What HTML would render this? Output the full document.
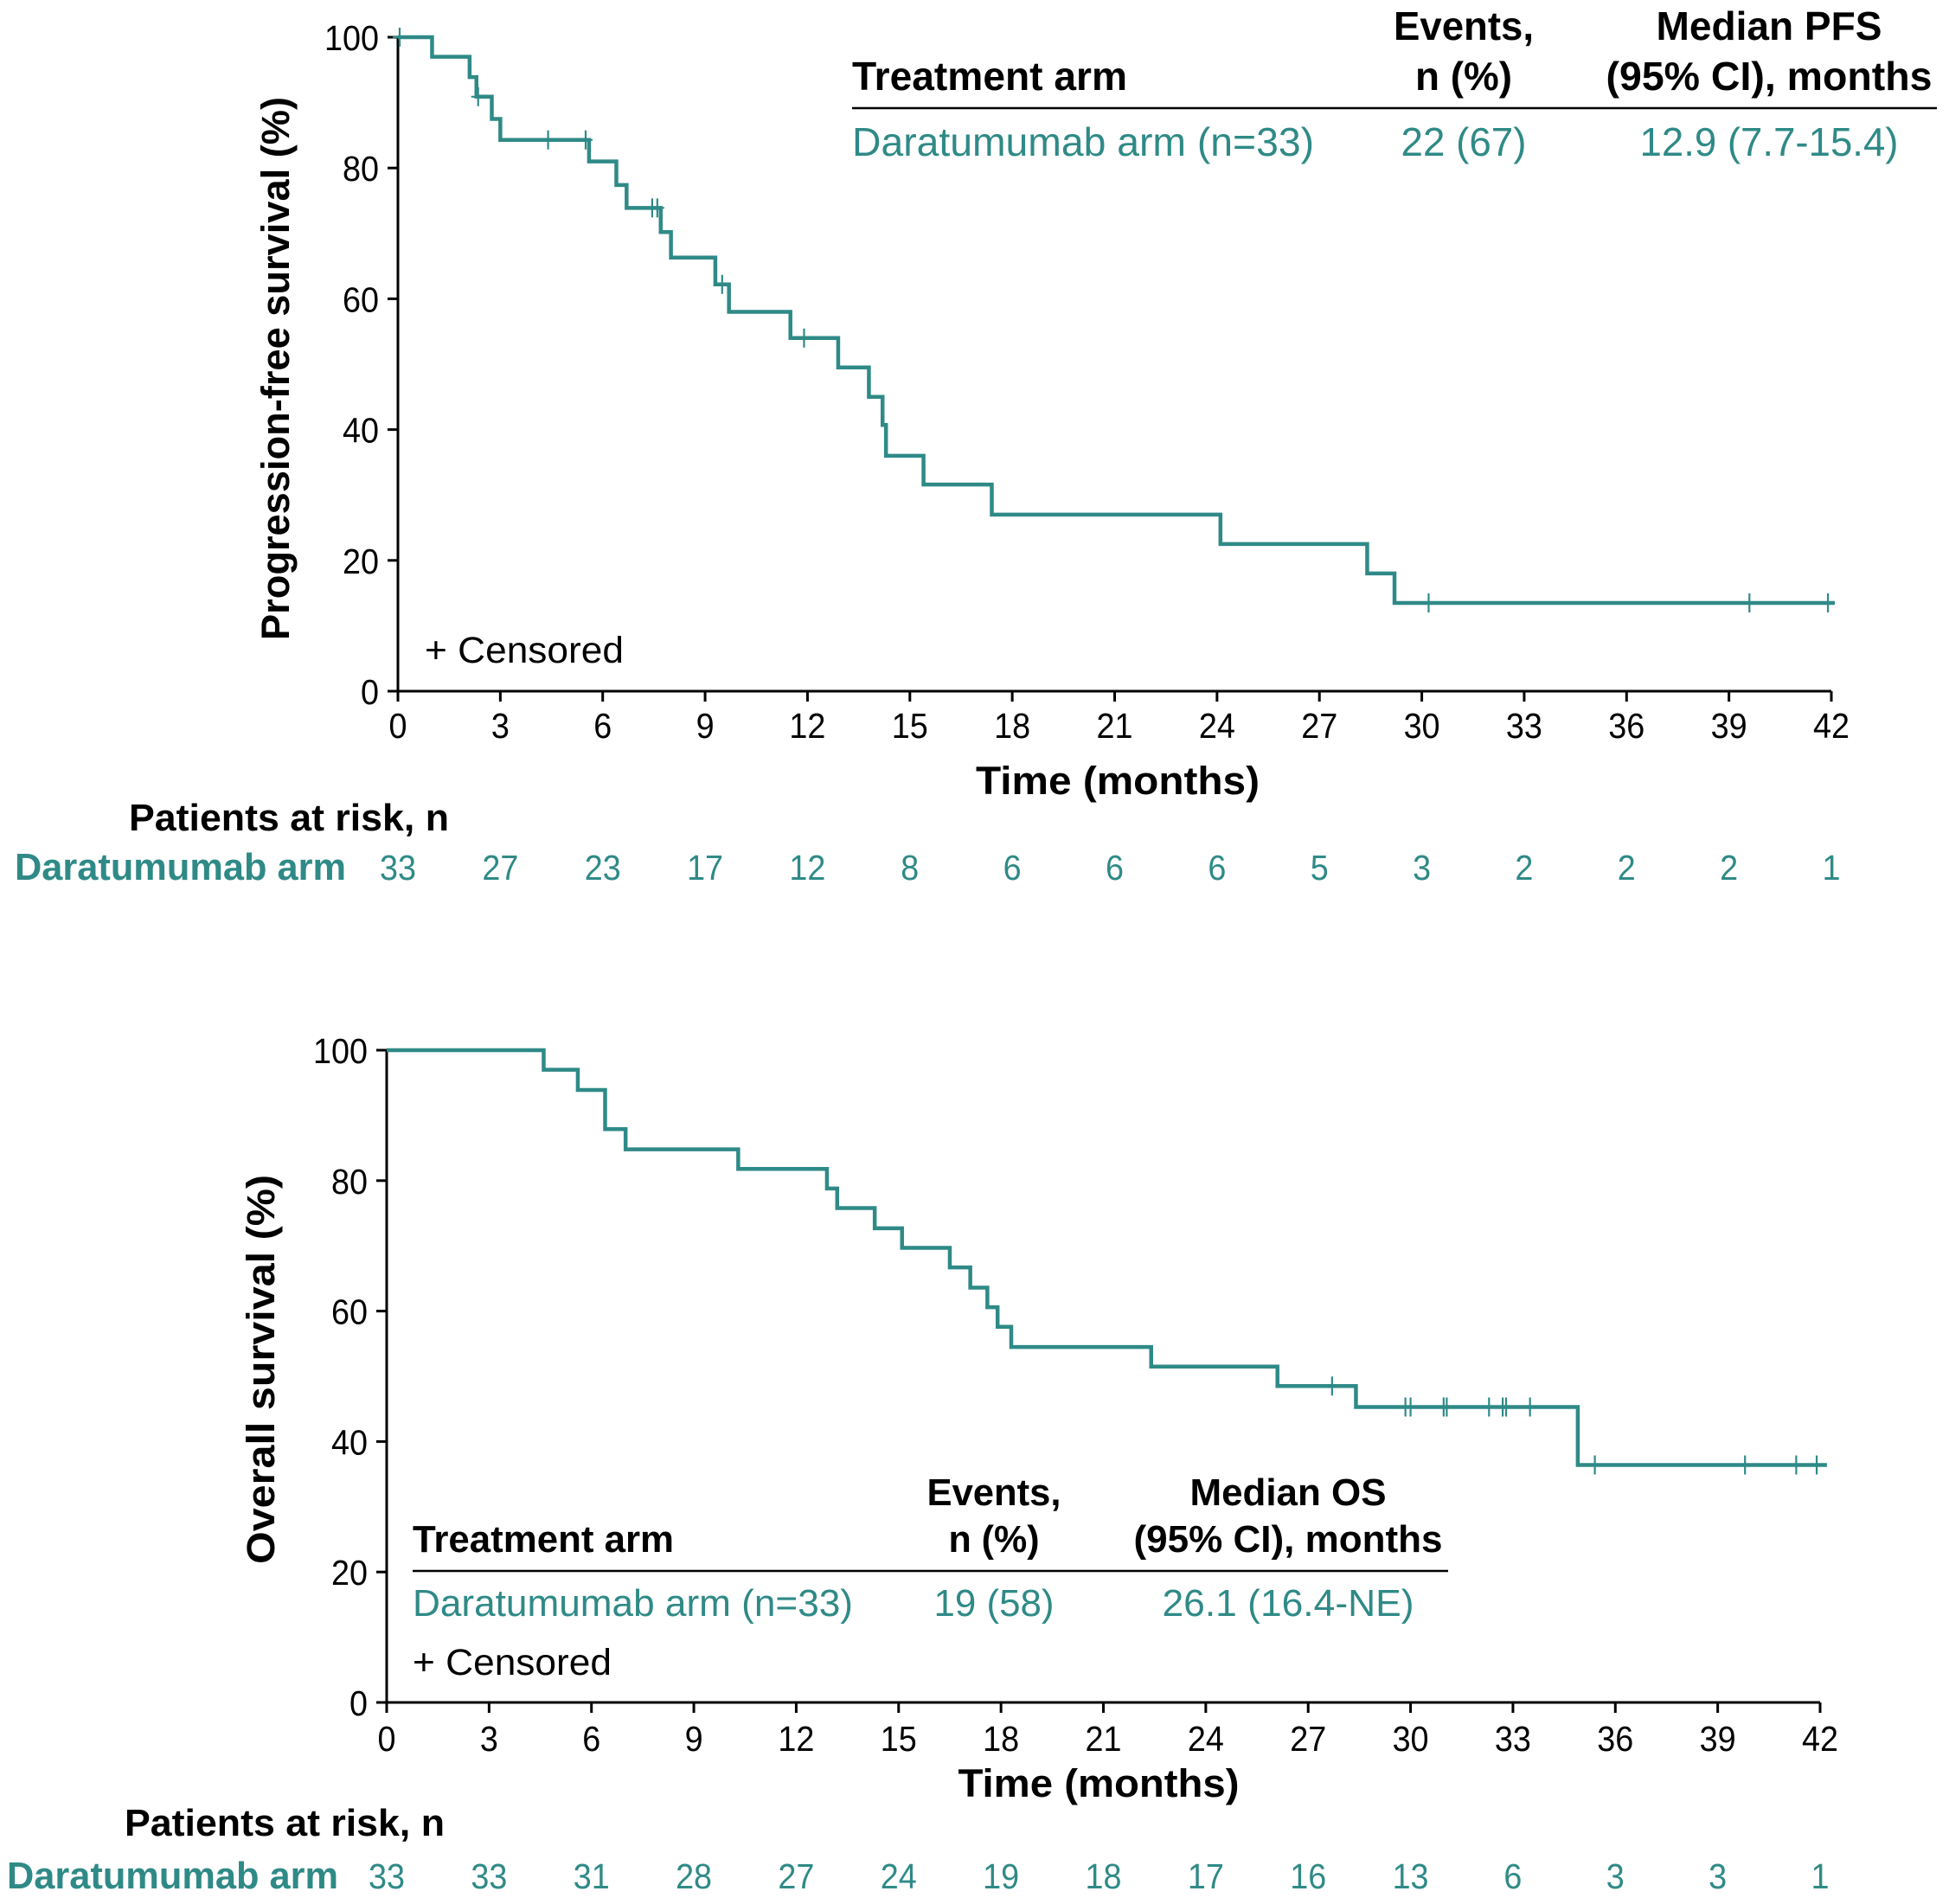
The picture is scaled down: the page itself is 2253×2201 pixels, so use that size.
<!DOCTYPE html>
<html><head><meta charset="utf-8"><style>
html,body{margin:0;padding:0;background:#fff}
svg{display:block}
text{font-family:"Liberation Sans",Arial,sans-serif}
</style></head><body>
<svg id="fig" xmlns="http://www.w3.org/2000/svg" width="2253" height="2201" viewBox="0 0 2253 2201">
<g id="top"></g>
<g id="bot"></g>
</svg>
<script>
const TEAL = "#2f8a87";
const xTicks = [0,3,6,9,12,15,18,21,24,27,30,33,36,39,42];
const yTicks = [0,20,40,60,80,100];
const pfsEventT = [1.0,2.1,2.3,2.75,3.0,5.6,6.4,6.7,7.7,8.0,9.3,9.7,11.5,12.9,13.8,14.2,14.3,15.4,17.4,24.1,28.4,29.2];
const pfsEventS = [97.0,93.9,90.9,87.5,84.3,81.0,77.4,73.9,70.2,66.3,62.2,58.0,54.0,49.5,45.0,40.7,36.0,31.6,27.0,22.5,18.0,13.5];
const pfsCensorT = [0.05,2.35,4.4,5.5,7.45,7.6,9.5,11.9,30.2,39.6,41.9];
const pfsEnd = 42.1;
const pfsRisk = [33,27,23,17,12,8,6,6,6,5,3,2,2,2,1];
const osEventT = [4.6,5.6,6.4,7.0,10.3,12.9,13.2,14.3,15.1,16.5,17.1,17.6,17.9,18.3,22.4,26.1,28.4,34.9];
const osEventS = [97.0,93.9,87.9,84.8,81.8,78.8,75.8,72.7,69.7,66.7,63.6,60.6,57.6,54.5,51.5,48.5,45.3,36.4];
const osCensorT = [27.7,29.85,30.0,30.97,31.06,32.3,32.7,32.8,33.5,35.4,39.8,41.3,41.9];
const osEnd = 42.2;
const osRisk = [33,33,31,28,27,24,19,18,17,16,13,6,3,3,1];

const NS = "http://www.w3.org/2000/svg";
function mk(parent, tag, attrs, txt){
  const e = document.createElementNS(NS, tag);
  for (const k in attrs) e.setAttribute(k, attrs[k]);
  if (txt !== undefined) e.textContent = txt;
  parent.appendChild(e);
  return e;
}
function survAt(T,S,t){ let s=100; for(let i=0;i<T.length;i++){ if(T[i]<=t) s=S[i]; } return s; }
const NUMFS = 41, NUMW = 21;

function draw(g, c){
  const xs = t => c.x0 + (c.x42 - c.x0) * t / 42;
  const ys = v => c.y0 - (c.y0 - c.y100) * v / 100;
  const ax = mk(g,'path',{d:`M${c.x0},${c.y100} V${c.y0} H${c.x42}`,fill:'none',stroke:'#000','stroke-width':3});
  
  
  yTicks.forEach(v=>{
    const y = ys(v);
    const tk = mk(g,'line',{x1:c.x0-12,x2:c.x0,y1:y,y2:y,stroke:'#000','stroke-width':3});
    
    
    const s = String(v);
    const tl = mk(g,'text',{x:c.ytx,y:y+15,'text-anchor':'end','font-size':NUMFS,fill:'#000',textLength:s.length*NUMW,lengthAdjust:'spacingAndGlyphs'},s);
    
    
  });
  xTicks.forEach((v,i)=>{
    const x = xs(v);
    const tk = mk(g,'line',{x1:x,x2:x,y1:c.y0,y2:c.y0+12,stroke:'#000','stroke-width':3});
    
    
    const s = String(v);
    const tl = mk(g,'text',{x:x,y:c.xtBase,'text-anchor':'middle','font-size':NUMFS,fill:'#000',textLength:s.length*NUMW,lengthAdjust:'spacingAndGlyphs'},s);
    
    
    const r = String(c.risk[i]);
    const rn = mk(g,'text',{x:x,y:c.riskBase,'text-anchor':'middle','font-size':NUMFS,fill:TEAL,textLength:r.length*NUMW,lengthAdjust:'spacingAndGlyphs'},r);
    
    
  });
  let d = `M${xs(0)},${ys(100)}`;
  c.T.forEach((t,i)=>{ d += ` H${xs(t)} V${ys(c.S[i])}`; });
  d += ` H${xs(c.end)}`;
  const cv = mk(g,'path',{d:d,fill:'none',stroke:TEAL,'stroke-width':4.5});
  
  
  c.C.forEach(t=>{
    const x = xs(t), y = ys(survAt(c.T,c.S,t));
    const cm = mk(g,'path',{d:`M${x},${y-11} V${y+11} M${x-8},${y} H${x+8}`,stroke:TEAL,'stroke-width':2.2,fill:'none'});
    
    
  });
  const xt = mk(g,'text',{x:c.xTitleX,y:c.xTitleY,'text-anchor':'middle','font-size':45,'font-weight':'bold',textLength:c.xTitleW,lengthAdjust:'spacingAndGlyphs'},'Time (months)');
  
  
  const yt = mk(g,'text',{x:0,y:0,'text-anchor':'middle','font-size':45,'font-weight':'bold',transform:`translate(${c.yTitleX},${c.yTitleY}) rotate(-90)`,textLength:c.yTitleW,lengthAdjust:'spacingAndGlyphs'},c.yTitle);
  
  
  const cs = mk(g,'text',{x:c.censX,y:c.censY,'font-size':43,textLength:230,lengthAdjust:'spacingAndGlyphs'},'+ Censored');
  
  
  const rh = mk(g,'text',{x:c.riskHX,y:c.riskHY,'font-size':44,'font-weight':'bold',textLength:370,lengthAdjust:'spacingAndGlyphs'},'Patients at risk, n');
  
  
  const ra = mk(g,'text',{x:c.riskAX,y:c.riskBase,'font-size':44,'font-weight':'bold',fill:TEAL,textLength:383,lengthAdjust:'spacingAndGlyphs'},'Daratumumab arm');
  
  
  const tb = c.tbl;
  const parts = [
    ['Events,', tb.evX, tb.h1, tb.evW1, true, '#000', 'events-header'],
    ['n (%)', tb.evX, tb.h2, tb.evW2, true, '#000', 'events-header-2'],
    [tb.medT1, tb.mdX, tb.h1, tb.mdW1, true, '#000', 'median-header'],
    ['(95% CI), months', tb.mdX, tb.h2, tb.mdW2, true, '#000', 'median-header-2'],
    [tb.ev, tb.evX, tb.r, tb.evVW, false, TEAL, 'events-value'],
    [tb.md, tb.mdX, tb.r, tb.mdVW, false, TEAL, 'median-value']
  ];
  parts.forEach(p=>{
    const t = mk(g,'text',{x:p[1],y:p[2],'text-anchor':'middle','font-size':tb.fs,'font-weight':p[4]?'bold':'normal',fill:p[5],textLength:p[3],lengthAdjust:'spacingAndGlyphs'},p[0]);
    
    
  });
  const th = mk(g,'text',{x:tb.l,y:tb.h2,'font-size':tb.fs,'font-weight':'bold',textLength:tb.taW,lengthAdjust:'spacingAndGlyphs'},'Treatment arm');
  
  
  const tr = mk(g,'text',{x:tb.l,y:tb.r,'font-size':tb.fs,fill:TEAL,textLength:tb.armW,lengthAdjust:'spacingAndGlyphs'},'Daratumumab arm (n=33)');
  
  
  const rl = mk(g,'line',{x1:tb.l,x2:tb.rt,y1:tb.rule,y2:tb.rule,stroke:'#000','stroke-width':2.5});
  
  
}

draw(document.getElementById('top'),{
  x0:460,x42:2117,y0:799,y100:43,ytx:438,xtBase:853,riskBase:1017,
  T:pfsEventT,S:pfsEventS,C:pfsCensorT,end:pfsEnd,risk:pfsRisk,
  xTitleX:1292,xTitleY:918,xTitleW:328,yTitle:'Progression-free survival (%)',yTitleX:334,yTitleY:426,yTitleW:628,
  censX:491,censY:766,riskHX:149,riskHY:960,riskAX:17,
  tbl:{fs:46,l:985,rt:2239,rule:125,h1:46,h2:104,r:180,evX:1692,mdX:2045,evW1:162,evW2:112,mdW1:261,mdW2:377,
       medT1:'Median PFS',ev:'22 (67)',md:'12.9 (7.7-15.4)',evVW:145,mdVW:299,taW:318,armW:534}
});
draw(document.getElementById('bot'),{
  x0:447,x42:2104,y0:1968,y100:1214,ytx:425,xtBase:2024,riskBase:2183,
  T:osEventT,S:osEventS,C:osCensorT,end:osEnd,risk:osRisk,
  xTitleX:1270,xTitleY:2077,xTitleW:325,yTitle:'Overall survival (%)',yTitleX:317,yTitleY:1583,yTitleW:450,
  censX:477,censY:1936,riskHX:144,riskHY:2122,riskAX:8,
  tbl:{fs:44,l:477,rt:1674,rule:1816,h1:1740,h2:1794,r:1868,evX:1149,mdX:1489,evW1:155,evW2:105,mdW1:227,mdW2:357,
       medT1:'Median OS',ev:'19 (58)',md:'26.1 (16.4-NE)',evVW:139,mdVW:291,taW:302,armW:509}
});
</script>
</body></html>
